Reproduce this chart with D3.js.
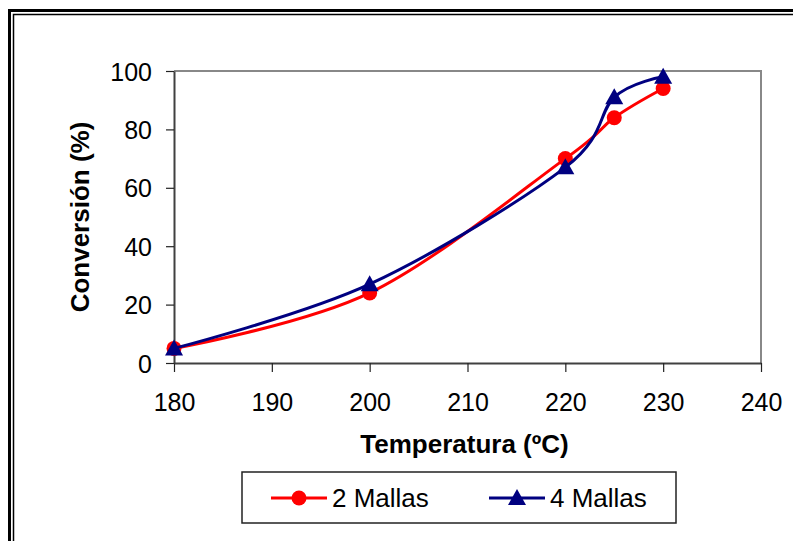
<!DOCTYPE html>
<html>
<head>
<meta charset="utf-8">
<script src="https://cdn.jsdelivr.net/npm/d3@7"></script>
<style>
  body { margin: 0; background: #fff; }
  svg { display: block; font-family: "Liberation Sans", Arial, sans-serif; }
</style>
</head>
<body>
<svg id="main" width="793" height="541"></svg>
<script>
// data
const temps = [180, 200, 220, 225, 230]
const mallas2 = [5, 24, 70, 84, 94]
const mallas4 = [5, 27, 67, 91, 98]
const seriesNames = ["2 Mallas", "4 Mallas"]
const xTicks = [180, 190, 200, 210, 220, 230, 240]
const yTicks = [0, 20, 40, 60, 80, 100]

let svg = d3.select("#main")

// outer double frame (runs off the right/bottom edge)
svg.append("rect").attr("x", 9.5).attr("y", 10.5).attr("width", 800).attr("height", 560)
    .attr("fill", "none").attr("stroke", "#000").attr("stroke-width", 3)
svg.append("rect").attr("x", 13.5).attr("y", 14.5).attr("width", 800).attr("height", 560)
    .attr("fill", "none").attr("stroke", "#000").attr("stroke-width", 1.5)

const pLeft = 174, pRight = 761, pTop = 71, pBottom = 363
let xScale = d3.scaleLinear().domain([180, 240]).range([pLeft, pRight])
let yScale = d3.scaleLinear().domain([0, 100]).range([pBottom, pTop])

// plot frame (top and right in grey)
svg.append("path")
    .attr("d", `M${pLeft},${pTop}H${pRight}V${pBottom}`)
    .attr("fill", "none").attr("stroke", "#888").attr("stroke-width", 2)

// axes
let x_axis = d3.axisBottom(xScale).tickValues(xTicks).tickSize(9).tickSizeOuter(0).tickPadding(21)
let y_axis = d3.axisLeft(yScale).tickValues(yTicks).tickSize(8).tickSizeOuter(0).tickPadding(14)

let gx = svg.append("g").attr("transform", `translate(0,${pBottom})`).call(x_axis)
let gy = svg.append("g").attr("transform", `translate(${pLeft},0)`).call(y_axis)
;[gx, gy].forEach(g => {
    g.select(".domain").attr("stroke", "#404040").attr("stroke-width", 2)
    g.selectAll(".tick line").attr("stroke", "#222").attr("stroke-width", 1.2)
    g.selectAll(".tick text").attr("fill", "#000").style("font-size", "25px")
        .style("font-family", "'Liberation Sans', Arial, sans-serif")
})
gy.selectAll(".tick text").attr("dy", "0.36em")

// axis titles
svg.append("text").attr("x", (pLeft + pRight) / 2 - 3).attr("y", 453)
    .attr("text-anchor", "middle").style("font-size", "26px").style("font-weight", "bold")
    .text("Temperatura (ºC)")
svg.append("text").attr("transform", `translate(89,${(pTop + pBottom) / 2}) rotate(-90)`)
    .attr("text-anchor", "middle").style("font-size", "26px").style("font-weight", "bold")
    .text("Conversión (%)")

// series
const triangle = "M0,-9L9,7L-9,7Z"
let line = d3.line().x(d => xScale(d[0])).y(d => yScale(d[1])).curve(d3.curveCardinal.tension(0))

let series = [
    {name: seriesNames[0], vals: mallas2, color: "#ff0000", marker: "circle"},
    {name: seriesNames[1], vals: mallas4, color: "#000080", marker: "triangle"}
]

series.forEach(s => {
    let pts = temps.map((t, i) => [t, s.vals[i]])
    svg.append("path").datum(pts).attr("d", line)
        .attr("fill", "none").attr("stroke", s.color).attr("stroke-width", 3)
    pts.forEach(p => {
        if (s.marker == "circle")
            svg.append("circle").attr("cx", xScale(p[0])).attr("cy", yScale(p[1])).attr("r", 7.5).attr("fill", s.color)
        else
            svg.append("path").attr("d", triangle)
                .attr("transform", `translate(${xScale(p[0])},${yScale(p[1])})`).attr("fill", s.color)
    })
})

// legend
let lg = svg.append("g")
lg.append("rect").attr("x", 242).attr("y", 472).attr("width", 434).attr("height", 51)
    .attr("fill", "#fff").attr("stroke", "#222").attr("stroke-width", 1.5)
const legendX = [271, 489]
series.forEach((s, i) => {
    let x0 = legendX[i], ly = 498
    lg.append("line").attr("x1", x0).attr("x2", x0 + 56).attr("y1", ly).attr("y2", ly)
        .attr("stroke", s.color).attr("stroke-width", 3)
    if (s.marker == "circle")
        lg.append("circle").attr("cx", x0 + 28).attr("cy", ly).attr("r", 7.5).attr("fill", s.color)
    else
        lg.append("path").attr("d", triangle).attr("transform", `translate(${x0 + 28},${ly})`).attr("fill", s.color)
    lg.append("text").attr("x", x0 + 61).attr("y", ly + 9).style("font-size", "26px").text(s.name)
})
</script>
</body>
</html>
